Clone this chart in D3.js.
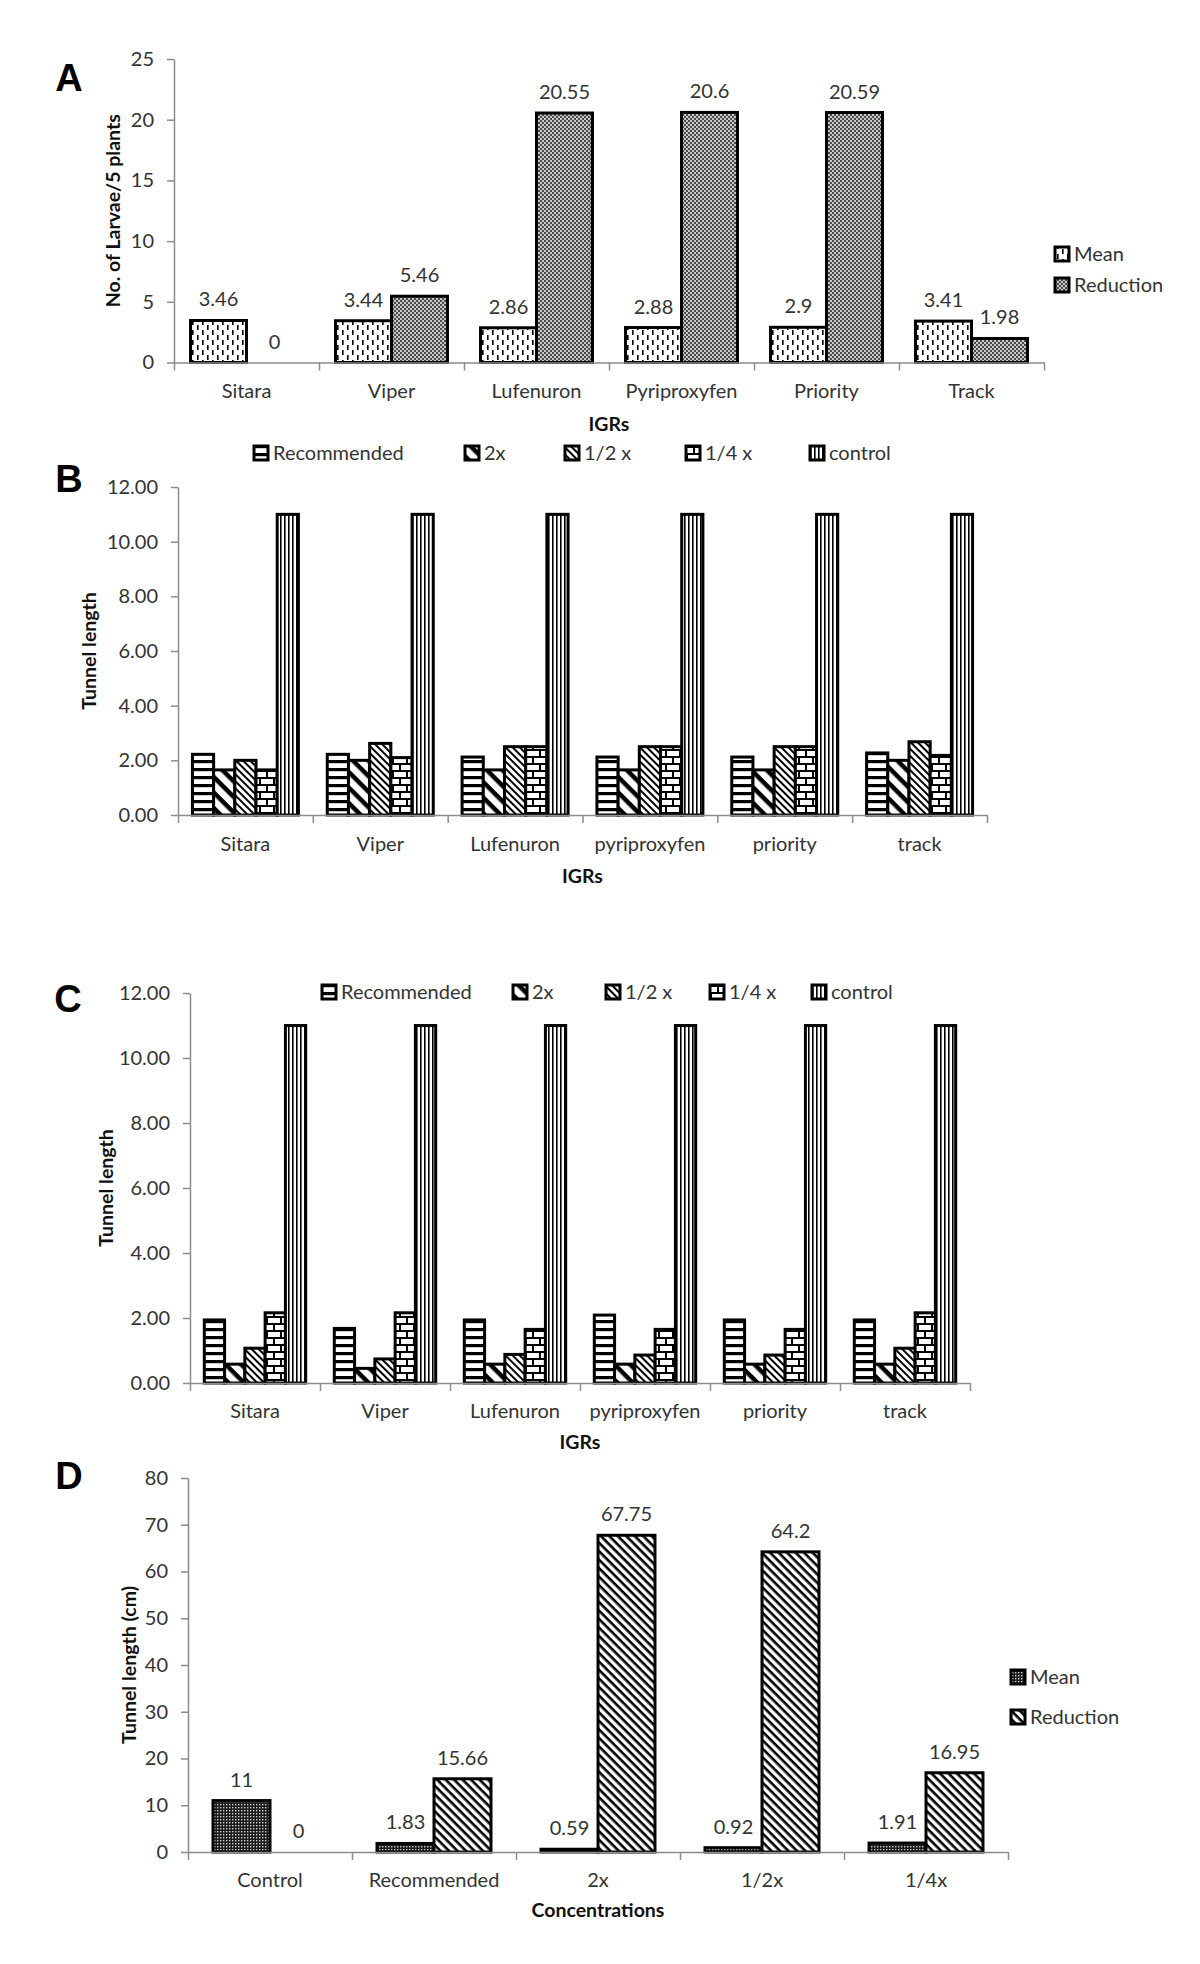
<!DOCTYPE html>
<html>
<head>
<meta charset="utf-8">
<script src="https://cdn.jsdelivr.net/npm/d3@7"></script>
<style>
  body { margin: 0; background: #fff; }
  text { font-family: Lato, "Open Sans", sans-serif; fill: #333; }
  .tick text { font-size: 20px; }
  .panel-letter { font-family: "Liberation Sans", Arial, sans-serif; font-weight: bold; font-size: 38px; fill: #000; }
  .axis-title { font-weight: bold; font-size: 19.5px; fill: #111; }
  .legend text { font-size: 20px; }
  .bar-label { font-size: 20px; }
</style>
</head>
<body>
<script>
// ---- data: panel A ----
const igrsA = ["Sitara", "Viper", "Lufenuron", "Pyriproxyfen", "Priority", "Track"];
const meanA = [3.46, 3.44, 2.86, 2.88, 2.9, 3.41];
const reductionA = [0, 5.46, 20.55, 20.6, 20.59, 1.98];
const yTicksA = [0, 5, 10, 15, 20, 25];

// ---- data: panel B ----
const igrsB = ["Sitara", "Viper", "Lufenuron", "pyriproxyfen", "priority", "track"];
const dosesB = ["Recommended", "2x", "1/2 x", "1/4 x", "control"];
const recommendedB = [2.22, 2.22, 2.12, 2.12, 2.12, 2.27];
const twoXB = [1.65, 2.0, 1.65, 1.65, 1.65, 2.0];
const halfXB = [2.0, 2.62, 2.5, 2.5, 2.5, 2.68];
const quarterXB = [1.65, 2.1, 2.5, 2.5, 2.5, 2.18];
const controlB = [11, 11, 11, 11, 11, 11];

// ---- data: panel C ----
const igrsC = ["Sitara", "Viper", "Lufenuron", "pyriproxyfen", "priority", "track"];
const dosesC = ["Recommended", "2x", "1/2 x", "1/4 x", "control"];
const recommendedC = [1.94, 1.68, 1.94, 2.09, 1.94, 1.94];
const twoXC = [0.58, 0.45, 0.58, 0.58, 0.58, 0.58];
const halfXC = [1.07, 0.74, 0.88, 0.86, 0.86, 1.07];
const quarterXC = [2.16, 2.16, 1.65, 1.65, 1.65, 2.16];
const controlC = [11, 11, 11, 11, 11, 11];
const yTicksBC = [0, 2, 4, 6, 8, 10, 12];

// ---- data: panel D ----
const concD = ["Control", "Recommended", "2x", "1/2x", "1/4x"];
const meanD = [11, 1.83, 0.59, 0.92, 1.91];
const reductionD = [0, 15.66, 67.75, 64.2, 16.95];
const yTicksD = [0, 10, 20, 30, 40, 50, 60, 70, 80];

const w = 1200;
const h = 1964;

const svg = d3.select("body")
  .append("svg")
  .attr("width", w)
  .attr("height", h);

// hatch patterns, black & white like the original figure
const defs = svg.append("defs");

function pattern(id, size, bg, transform) {
  const p = defs.append("pattern")
    .attr("id", id)
    .attr("patternUnits", "userSpaceOnUse")
    .attr("width", size)
    .attr("height", size);
  if (transform) p.attr("patternTransform", transform);
  p.append("rect").attr("width", size).attr("height", size).attr("fill", bg);
  return p;
}

// A mean: white with staggered short vertical dashes
let p = pattern("dashV", 10, "#fff");
p.append("rect").attr("x", 2).attr("y", 0).attr("width", 1.6).attr("height", 5).attr("fill", "#000");
p.append("rect").attr("x", 7).attr("y", 5).attr("width", 1.6).attr("height", 5).attr("fill", "#000");

// A reduction: fine grey checker
p = pattern("checker", 4, "#c8c8c8");
p.append("rect").attr("width", 2).attr("height", 2).attr("fill", "#4a4a4a");
p.append("rect").attr("x", 2).attr("y", 2).attr("width", 2).attr("height", 2).attr("fill", "#4a4a4a");

// horizontal stripes
p = pattern("hStripe", 8, "#fff");
p.append("rect").attr("y", 0).attr("width", 8).attr("height", 3.2).attr("fill", "#000");

// wide downward diagonal
p = pattern("wideDiag", 11, "#fff", "rotate(45)");
p.append("rect").attr("width", 11).attr("height", 4.5).attr("fill", "#000");

// narrow downward diagonal
p = pattern("narrowDiag", 5, "#fff", "rotate(45)");
p.append("rect").attr("width", 5).attr("height", 2).attr("fill", "#000");

// brick
p = pattern("brick", 14, "#fff");
p.append("rect").attr("y", 0).attr("width", 14).attr("height", 2).attr("fill", "#000");
p.append("rect").attr("y", 7).attr("width", 14).attr("height", 2).attr("fill", "#000");
p.append("rect").attr("x", 0).attr("y", 0).attr("width", 2).attr("height", 7).attr("fill", "#000");
p.append("rect").attr("x", 7).attr("y", 7).attr("width", 2).attr("height", 7).attr("fill", "#000");

// narrow vertical stripes
p = pattern("vStripe", 4, "#fff");
p.append("rect").attr("width", 1.6).attr("height", 4).attr("fill", "#000");

// D mean: dark with light dots
p = pattern("darkDots", 3, "#1a1a1a");
p.append("rect").attr("x", 1).attr("y", 1).attr("width", 1.4).attr("height", 1.4).attr("fill", "#d0d0d0");

// D reduction: dense downward diagonal
p = pattern("diagD", 6, "#fff", "rotate(45)");
p.append("rect").attr("width", 6).attr("height", 2.6).attr("fill", "#000");

function drawPanel(o) {
  const g = svg.append("g");
  const n = o.categories.length;

  const xBand = d3.scaleBand()
    .domain(o.categories)
    .range([o.x0, o.x1]);
  const xEdge = d3.scaleLinear()
    .domain([0, n])
    .range([o.x0, o.x1]);
  const yScale = d3.scaleLinear()
    .domain([0, o.yMax])
    .range([o.y0, o.yTop]);

  const bw = xBand.bandwidth();
  const gap = bw * (1 - o.groupFrac) / 2;
  const xSub = d3.scaleBand()
    .domain(o.series.map(s => s.name))
    .range([gap, bw - gap]);

  // bars
  o.series.forEach(s => {
    const rows = o.categories.map((c, i) => ({ cat: c, v: s.values[i] }));
    g.append("g")
      .selectAll("rect")
      .data(rows)
      .enter()
      .append("rect")
      .attr("x", d => xBand(d.cat) + xSub(s.name))
      .attr("y", d => yScale(d.v))
      .attr("width", xSub.bandwidth())
      .attr("height", d => o.y0 - yScale(d.v))
      .attr("fill", "url(#" + s.fill + ")")
      .attr("stroke", d => d.v > 0 ? "#000" : "none")
      .attr("stroke-width", 3);

    if (o.labels) {
      g.append("g")
        .selectAll("text")
        .data(rows)
        .enter()
        .append("text")
        .attr("class", "bar-label")
        .attr("x", d => xBand(d.cat) + xSub(s.name) + xSub.bandwidth() / 2)
        .attr("y", d => yScale(d.v) - 14)
        .attr("text-anchor", "middle")
        .text(d => d.v);
    }
  });

  // y axis
  const yAxis = d3.axisLeft(yScale)
    .tickValues(o.yTicks)
    .tickFormat(o.yFormat)
    .tickSize(7)
    .tickSizeOuter(0)
    .tickPadding(13);
  const yG = g.append("g")
    .attr("transform", `translate(${o.x0}, 0)`)
    .call(yAxis);

  // x axis: boundary ticks + centred labels
  const edgeAxis = d3.axisBottom(xEdge)
    .tickValues(d3.range(n + 1))
    .tickFormat("")
    .tickSize(8)
    .tickSizeOuter(0);
  const xG = g.append("g")
    .attr("transform", `translate(0, ${o.y0})`)
    .call(edgeAxis);

  const labelAxis = d3.axisBottom(xBand)
    .tickSize(0)
    .tickPadding(o.catPad);
  const xL = g.append("g")
    .attr("transform", `translate(0, ${o.y0})`)
    .call(labelAxis);
  xL.select(".domain").remove();

  [yG, xG, xL].forEach(a => {
    a.selectAll("path, line").attr("stroke", "#8c8c8c").attr("stroke-width", 1.5);
    a.selectAll("text").attr("fill", "#333").style("font-family", "Lato, sans-serif");
  });

  // titles
  g.append("text")
    .attr("class", "axis-title")
    .attr("x", (o.x0 + o.x1) / 2)
    .attr("y", o.y0 + o.xTitleOff)
    .attr("text-anchor", "middle")
    .text(o.xTitle);

  g.append("text")
    .attr("class", "axis-title")
    .attr("transform", `translate(${o.yTitleX}, ${(o.y0 + o.yTop) / 2}) rotate(-90)`)
    .attr("text-anchor", "middle")
    .attr("dy", "0.35em")
    .text(o.yTitle);

  g.append("text")
    .attr("class", "panel-letter")
    .attr("x", o.letterX)
    .attr("y", o.letterY)
    .attr("text-anchor", "middle")
    .attr("dy", "0.36em")
    .text(o.letter);

  // legend
  const lg = g.append("g").attr("class", "legend");
  const items = lg.selectAll("g")
    .data(o.series)
    .enter()
    .append("g")
    .attr("transform", (d, i) => `translate(${o.legendX[i]}, ${o.legendY[i]})`);
  items.append("rect")
    .attr("x", 0)
    .attr("y", -7)
    .attr("width", 14)
    .attr("height", 14)
    .attr("fill", d => "url(#" + d.fill + ")")
    .attr("stroke", "#000")
    .attr("stroke-width", 3);
  items.append("text")
    .attr("x", 19)
    .attr("y", 0)
    .attr("dy", "0.35em")
    .text(d => d.name);
}

drawPanel({
  letter: "A", letterX: 69, letterY: 77,
  categories: igrsA,
  series: [
    { name: "Mean", values: meanA, fill: "dashV" },
    { name: "Reduction", values: reductionA, fill: "checker" }
  ],
  x0: 174, x1: 1044, y0: 362.5, yTop: 59, yMax: 25,
  yTicks: yTicksA, yFormat: d3.format("d"),
  groupFrac: 0.772, catPad: 21, labels: true,
  xTitle: "IGRs", xTitleOff: 68, yTitle: "No. of Larvae/5 plants", yTitleX: 113,
  legendX: [1055, 1055], legendY: [254, 285]
});

drawPanel({
  letter: "B", letterX: 69, letterY: 478,
  categories: igrsB,
  series: [
    { name: dosesB[0], values: recommendedB, fill: "hStripe" },
    { name: dosesB[1], values: twoXB, fill: "wideDiag" },
    { name: dosesB[2], values: halfXB, fill: "narrowDiag" },
    { name: dosesB[3], values: quarterXB, fill: "brick" },
    { name: dosesB[4], values: controlB, fill: "vStripe" }
  ],
  x0: 178, x1: 987, y0: 815, yTop: 487, yMax: 12,
  yTicks: yTicksBC, yFormat: d3.format(".2f"),
  groupFrac: 0.786, catPad: 22, labels: false,
  xTitle: "IGRs", xTitleOff: 68, yTitle: "Tunnel length", yTitleX: 89,
  legendX: [254, 465, 565, 686, 810], legendY: [453, 453, 453, 453, 453]
});

drawPanel({
  letter: "C", letterX: 68, letterY: 998,
  categories: igrsC,
  series: [
    { name: dosesC[0], values: recommendedC, fill: "hStripe" },
    { name: dosesC[1], values: twoXC, fill: "wideDiag" },
    { name: dosesC[2], values: halfXC, fill: "narrowDiag" },
    { name: dosesC[3], values: quarterXC, fill: "brick" },
    { name: dosesC[4], values: controlC, fill: "vStripe" }
  ],
  x0: 190, x1: 970, y0: 1383, yTop: 993, yMax: 12,
  yTicks: yTicksBC, yFormat: d3.format(".2f"),
  groupFrac: 0.78, catPad: 21, labels: false,
  xTitle: "IGRs", xTitleOff: 66, yTitle: "Tunnel length", yTitleX: 106,
  legendX: [322, 513, 606, 710, 812], legendY: [992, 992, 992, 992, 992]
});

drawPanel({
  letter: "D", letterX: 69, letterY: 1475,
  categories: concD,
  series: [
    { name: "Mean", values: meanD, fill: "darkDots" },
    { name: "Reduction", values: reductionD, fill: "diagD" }
  ],
  x0: 188, x1: 1008, y0: 1852, yTop: 1478, yMax: 80,
  yTicks: yTicksD, yFormat: d3.format("d"),
  groupFrac: 0.695, catPad: 21, labels: true,
  xTitle: "Concentrations", xTitleOff: 65, yTitle: "Tunnel length (cm)", yTitleX: 129,
  legendX: [1011, 1011], legendY: [1677, 1717]
});
</script>
</body>
</html>
